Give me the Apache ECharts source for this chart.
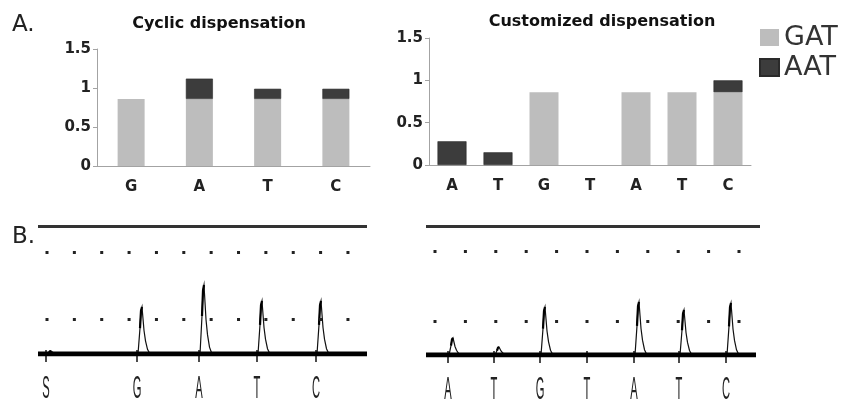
<!DOCTYPE html>
<html>
<head>
<meta charset="utf-8">
<script src="https://cdn.jsdelivr.net/npm/echarts@6/dist/echarts.min.js"></script>
<style>
html,body{margin:0;padding:0;background:#fff;}
#chart{width:841px;height:404px;}
</style>
</head>
<body>
<div id="chart"></div>
<script>
// A. bar charts (relative signal per dispensation)
var cyclicBases = ['G', 'A', 'T', 'C'];
var cyclicGAT = [0.86, 0.86, 0.86, 0.86];
var cyclicAAT = [0, 0.26, 0.13, 0.13];

var customBases = ['A', 'T', 'G', 'T', 'A', 'T', 'C'];
var customGAT = [0, 0, 0.86, 0, 0.86, 0.86, 0.86];
var customAAT = [0.28, 0.15, 0, 0, 0, 0, 0.14];

var barTicks = [0, 0.5, 1, 1.5];

// B. pyrograms: dispensation position and peak height (signal units)
var pyroLeftRange = [0, 329];
var pyroLeftDisp = ['S', 'G', 'A', 'T', 'C'];
var pyroLeftPos = [8, 99, 161, 219, 278];
var pyroLeftPeak = [3, 47, 69, 53, 53];

var pyroRightRange = [0, 334];
var pyroRightDisp = ['A', 'T', 'G', 'T', 'A', 'T', 'C'];
var pyroRightPos = [22, 68, 114, 161, 208, 253, 300];
var pyroRightPeak = [17, 8, 48, 0, 53, 45, 52];

// pyrogram reference levels
var pyroLeftLevels = [35, 102, 128];
var pyroRightLevels = [34, 104, 129];

// shape of one peak (offset from dispensation, fraction of height)
var peakDx = [1, 3, 4, 5, 6, 7, 8.5, 10.5, 13];
var peakF = [0, 0.55, 0.92, 1, 0.75, 0.5, 0.28, 0.1, 0];

var GREY = '#bdbdbd';
var DARK = '#3c3c3c';
var AXIS = '#a3a3a3';
var BOLD = 'DejaVu Sans';

var chart = echarts.init(document.getElementById('chart'));

function pairs(pos, val){
	var out = [];
	for (var i = 0; i < pos.length; i++) {
		out.push([pos[i], val[i]]);
	}
	return out;
}

// zero means no bar at all
function noZero(arr){
	return arr.map(function(v){ return v == 0 ? '-' : v; });
}

function peakRenderer(letters){
	return function(params, api){
		var x = api.value(0);
		var h = api.value(1);
		var pts = [];
		for (var i = 0; i < peakDx.length; i++) {
			pts.push(api.coord([x + peakDx[i], h * peakF[i]]));
		}
		var base = api.coord([x, 0]);
		var children = [
			{type: 'line', shape: {x1: base[0], y1: base[1] - 4, x2: base[0], y2: base[1] + 8},
				style: {stroke: '#111', lineWidth: 1.5}}
		];
		if (h > 0) {
			children.push({type: 'polyline', shape: {points: pts}, style: {stroke: '#111', fill: null, lineWidth: 1.2}});
			children.push({type: 'polyline', shape: {points: pts.slice(1, 4)}, style: {stroke: '#000', fill: null, lineWidth: 2.2}});
		}
		children.push({type: 'text', x: base[0], y: base[1] + 20, scaleX: 0.36,
			style: {text: letters[params.dataIndex], x: 0, y: 0, fill: '#222', align: 'center', verticalAlign: 'top',
				font: 'normal 31px "Liberation Sans"'}});
		return {type: 'group', children: children};
	};
}

function levelLines(levels, gap){
	// dotted rows of the pyrogram, solid line on top
	var d = [];
	for (var i = 0; i < levels.length; i++) {
		var last = i == levels.length - 1;
		d.push({yAxis: levels[i], lineStyle: last ?
			{color: '#333', width: 3, type: 'solid'} :
			{color: '#222', width: 3, type: [3, gap - 3], dashOffset: gap - 7.5}});
	}
	return d;
}

var barLabel = {color: '#222', fontFamily: BOLD, fontWeight: 'bold', fontSize: 15};

var option = {
	animation: false,
	backgroundColor: '#fff',
	title: [
		{text: 'Cyclic dispensation', left: 214, top: 11, textAlign: 'center',
			textStyle: {fontFamily: BOLD, fontWeight: 'bold', fontSize: 16, color: '#111'}},
		{text: 'Customized dispensation', left: 597, top: 9, textAlign: 'center',
			textStyle: {fontFamily: BOLD, fontWeight: 'bold', fontSize: 16, color: '#111'}},
		{text: 'A.', left: 7, top: 9, textStyle: {fontFamily: 'DejaVu Sans', fontWeight: 'normal', fontSize: 23, color: '#222'}},
		{text: 'B.', left: 7, top: 221, textStyle: {fontFamily: 'DejaVu Sans', fontWeight: 'normal', fontSize: 23, color: '#222'}}
	],
	legend: {
		data: ['GAT', 'AAT'],
		orient: 'vertical',
		left: 759, top: 24, padding: 0,
		itemWidth: 19, itemHeight: 17, itemGap: 3,
		icon: 'rect',
		textStyle: {fontFamily: 'DejaVu Sans', fontSize: 27, color: '#333'}
	},
	grid: [
		{left: 97, right: 471, top: 49, bottom: 238},
		{left: 429, right: 90, top: 38, bottom: 239},
		{left: 38, right: 474, top: 224, bottom: 50},
		{left: 426, right: 81, top: 225, bottom: 49}
	],
	xAxis: [
		{type: 'category', gridIndex: 0, data: cyclicBases,
			axisLine: {lineStyle: {color: AXIS}}, axisTick: {length: 5, lineStyle: {color: AXIS}},
			axisLabel: Object.assign({margin: 14}, barLabel)},
		{type: 'category', gridIndex: 1, data: customBases,
			axisLine: {lineStyle: {color: AXIS}}, axisTick: {length: 5, lineStyle: {color: AXIS}},
			axisLabel: Object.assign({margin: 14}, barLabel)},
		{type: 'value', gridIndex: 2, min: pyroLeftRange[0], max: pyroLeftRange[1], show: false},
		{type: 'value', gridIndex: 3, min: pyroRightRange[0], max: pyroRightRange[1], show: false}
	],
	yAxis: [
		{type: 'value', gridIndex: 0, min: barTicks[0], max: barTicks[3], interval: 0.5,
			axisLine: {show: true, lineStyle: {color: AXIS}}, axisTick: {show: true, length: 4, lineStyle: {color: AXIS}},
			splitLine: {show: false}, axisLabel: Object.assign({margin: 6}, barLabel)},
		{type: 'value', gridIndex: 1, min: barTicks[0], max: barTicks[3], interval: 0.5,
			axisLine: {show: true, lineStyle: {color: AXIS}}, axisTick: {show: true, length: 4, lineStyle: {color: AXIS}},
			splitLine: {show: false}, axisLabel: Object.assign({margin: 6}, barLabel)},
		{type: 'value', gridIndex: 2, min: 0, max: 130, show: false},
		{type: 'value', gridIndex: 3, min: 0, max: 130, show: false}
	],
	series: [
		{name: 'GAT', type: 'bar', stack: 'cyc', xAxisIndex: 0, yAxisIndex: 0, data: noZero(cyclicGAT), barWidth: 27,
			itemStyle: {color: GREY}},
		{name: 'AAT', type: 'bar', stack: 'cyc', xAxisIndex: 0, yAxisIndex: 0, data: noZero(cyclicAAT), barWidth: 27,
			itemStyle: {color: DARK, borderColor: '#2a2a2a', borderWidth: 0.6}},
		{name: 'GAT', type: 'bar', stack: 'cus', xAxisIndex: 1, yAxisIndex: 1, data: noZero(customGAT), barWidth: 29,
			itemStyle: {color: GREY}},
		{name: 'AAT', type: 'bar', stack: 'cus', xAxisIndex: 1, yAxisIndex: 1, data: noZero(customAAT), barWidth: 29,
			itemStyle: {color: DARK, borderColor: '#2a2a2a', borderWidth: 0.6}},
		// pyrogram baselines with level lines
		{type: 'line', xAxisIndex: 2, yAxisIndex: 2, data: [[pyroLeftRange[0], 0], [pyroLeftRange[1], 0]],
			symbol: 'none', lineStyle: {color: '#000', width: 5}, silent: true,
			markLine: {symbol: 'none', silent: true, label: {show: false}, data: levelLines(pyroLeftLevels, 27.36)}},
		{type: 'line', xAxisIndex: 3, yAxisIndex: 3, data: [[pyroRightRange[0], 0], [pyroRightRange[1] - 4, 0]],
			symbol: 'none', lineStyle: {color: '#000', width: 5}, silent: true,
			markLine: {symbol: 'none', silent: true, label: {show: false}, data: levelLines(pyroRightLevels, 30.4)}},
		{type: 'custom', xAxisIndex: 2, yAxisIndex: 2, data: pairs(pyroLeftPos, pyroLeftPeak),
			renderItem: peakRenderer(pyroLeftDisp), silent: true},
		{type: 'custom', xAxisIndex: 3, yAxisIndex: 3, data: pairs(pyroRightPos, pyroRightPeak),
			renderItem: peakRenderer(pyroRightDisp), silent: true}
	]
};
chart.setOption(option);
</script>
</body>
</html>
